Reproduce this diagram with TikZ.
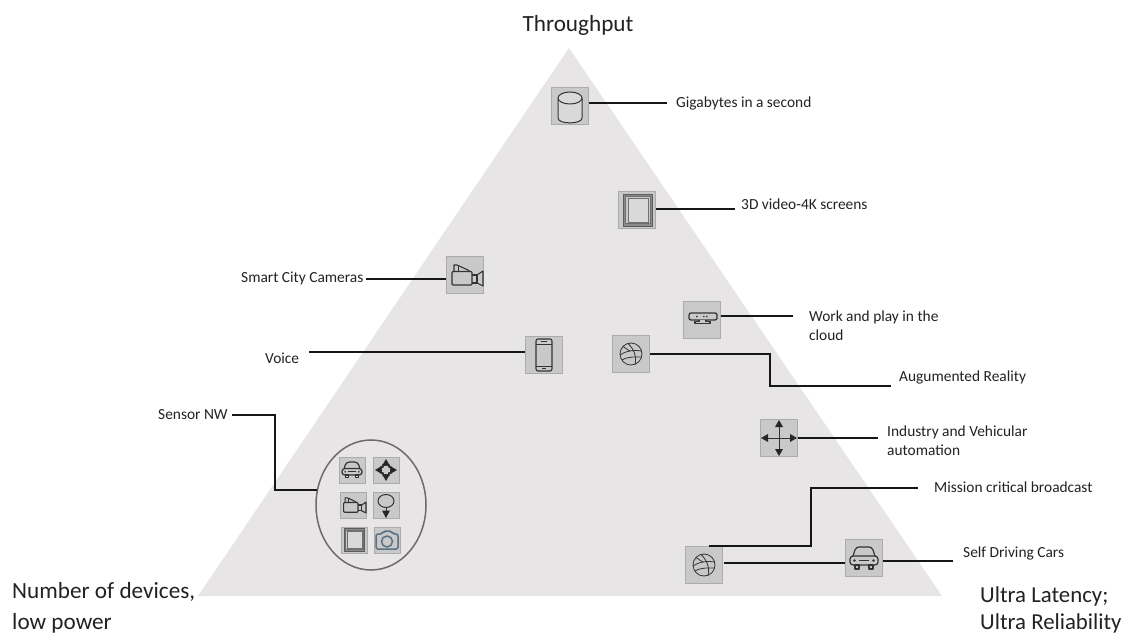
\documentclass[tikz,border=0pt]{standalone}
\usepackage{fontspec}
\usetikzlibrary{shapes.geometric}
\setmainfont{Carlito}
\definecolor{triGray}{HTML}{E7E5E6}
\definecolor{boxFill}{HTML}{C9C9C9}
\definecolor{boxEdge}{HTML}{ABABAB}
\definecolor{boxPale}{HTML}{D9D9D9}
\definecolor{frameMid}{HTML}{8A8A8A}
\definecolor{iconCol}{HTML}{333333}
\definecolor{camBlue}{HTML}{5A7182}
\definecolor{lineCol}{HTML}{161616}
\definecolor{txt}{HTML}{222222}
\definecolor{ringCol}{HTML}{6E6A6A}
\tikzset{
  x=1pt,y=-1pt,
  tri/.style={fill=triGray,draw=none},
  iconbox/.style={draw=boxEdge,fill=boxFill,line width=1.2pt,minimum size=37pt,inner sep=0pt},
  smallbox/.style={draw=boxEdge,fill=boxFill,line width=.8pt,minimum size=26pt,inner sep=0pt},
  lab/.style={font=\fontsize{15.4}{19}\selectfont,text=txt,inner sep=0pt,anchor=west,align=left},
  biglabA/.style={font=\fontsize{23.2}{31}\selectfont,text=txt,inner sep=0pt,anchor=west,align=left},
  biglabB/.style={font=\fontsize{22.8}{27}\selectfont,text=txt,inner sep=0pt,anchor=west,align=left},
  conn/.style={draw=lineCol,line width=1.3pt},
  ico/.style={draw=iconCol,line width=.8pt,line join=round},
  pics/cyl/.style={code={
    \draw[ico,fill=boxPale,line width=1pt] (-12,-8) -- (-12,12) .. controls (-12,18.5) and (12,18.5) .. (12,12) -- (12,-8);
    \draw[ico,fill=boxPale,line width=1pt] (0,-8) ellipse[x radius=12,y radius=6];
  }},
  pics/frm/.style={code={
    \draw[draw=iconCol!80,fill=frameMid,line width=.8pt] (-14,-16) rectangle (15,16);
    \draw[draw=iconCol!70,fill=boxFill,line width=.6pt] (-12,-14) rectangle (13,13.5);
    \draw[draw=iconCol!70,fill=boxPale,line width=.8pt] (-9,-12) rectangle (11,12);
  }},
  pics/cam/.style={code={
    \draw[ico,line width=1.1pt,rounded corners=1pt] (-13,-3.5) rectangle (7,10);
    \draw[ico,line width=1.1pt] (7,0) -- (12,0) -- (12,8) -- (7,8);
    \draw[ico,line width=1.1pt] (12,0) -- (18,-4) -- (18,11) -- (12,8);
    \draw[ico,line width=1.1pt] (-11,-3.5) -- (-11,-10) -- (-8,-10) -- (4,-4.5) -- (4,-3.5);
    \draw[ico,line width=.7pt] (-7,-3.5) -- (-7,-9);
  }},
  pics/phone/.style={code={
    \draw[ico,line width=1.1pt,rounded corners=2pt] (-8,-16) rectangle (8,16);
    \draw[ico,line width=.7pt] (-8,-11) -- (8,-11) (-8,11) -- (8,11);
    \draw[ico,line width=.8pt] (-2,13.5) -- (2,13.5) (-3,-13.5) -- (3,-13.5);
  }},
  pics/ball/.style={code={
    \draw[ico] (0,0) circle[radius=11];
    \draw[ico] (-3,-10.5) .. controls (3,-5) and (6,3) .. (4,10.5);
    \draw[ico] (-10.8,1) .. controls (-4,-4) and (5,-4) .. (10.5,-3);
    \draw[ico] (-9,6) .. controls (-2,2) and (6,3) .. (10.5,3);
    \draw[ico] (-8,-7.5) .. controls (-4,-5) and (-2,-3) .. (-1,-3);
  }},
  pics/kinect/.style={code={
    \draw[ico,line width=1.3pt,fill=boxFill,rounded corners=2pt] (-13,-7) rectangle (15,0);
    \draw[ico,line width=1.3pt,fill=boxFill] (-3,0) -- (-3,1.5) -- (-7,1.5) -- (-7,3.5) -- (8,3.5) -- (8,1.5) -- (4,1.5) -- (4,0);
    \fill[iconCol] (-6,-4.2) rectangle (-4.5,-2.8) (1,-4.2) rectangle (2.5,-2.8) (4,-4.2) rectangle (5.5,-2.8);
  }},
  pics/arrs/.style={code={
    \draw[ico,line width=.9pt] (-14,0) -- (14,0) (0,-14) -- (0,14);
    \fill[black!85] (0,-18) -- (4,-11) -- (-4,-11) -- cycle
      (0,18) -- (4,11) -- (-4,11) -- cycle
      (-18,0) -- (-11,-4) -- (-11,4) -- cycle
      (18,0) -- (11,-4) -- (11,4) -- cycle;
  }},
  pics/car/.style={code={
    \draw[ico,line width=1.2pt,rounded corners=3pt] (-14,-2) rectangle (14,7);
    \draw[ico,line width=1.2pt,rounded corners=3pt] (-11,-2) -- (-8,-11) -- (8,-11) -- (11,-2);
    \draw[ico,line width=1.1pt] (-9,7) rectangle (-5,11) (5,7) rectangle (9,11);
    \draw[ico,line width=.8pt] (-5,2.5) -- (5,2.5);
    \fill[iconCol] (-9.5,2.5) circle[radius=1.3] (9.5,2.5) circle[radius=1.3];
  }},
  pics/cross/.style={code={
    \draw[ico,line width=1.4pt,fill=boxFill] (-3,-5) -- (-3,-3) -- (-5,-3) -- (-5,3) -- (-3,3) -- (-3,5) -- (3,5) -- (3,3) -- (5,3) -- (5,-3) -- (3,-3) -- (3,-5) -- cycle;
    \fill[black!85] (0,-11) -- (3.5,-5) -- (-3.5,-5) -- cycle
      (0,11) -- (3.5,5) -- (-3.5,5) -- cycle
      (-11,0) -- (-5,-3.5) -- (-5,3.5) -- cycle
      (11,0) -- (5,-3.5) -- (5,3.5) -- cycle;
  }},
  pics/pin/.style={code={
    \draw[ico,line width=1pt] (0,-4) ellipse[x radius=8,y radius=6.5];
    \draw[ico,line width=1pt] (0,2.5) -- (0,8);
    \fill[black!85] (0,13) -- (-4,5.5) -- (4,5.5) -- cycle;
  }},
  pics/photo/.style={code={
    \draw[draw=camBlue,line width=1.5pt,rounded corners=2pt] (-11,-6) -- (-5,-6) -- (-3,-9) -- (4,-9) -- (6,-6) -- (11,-6) -- (11,9) -- (-11,9) -- cycle;
    \draw[draw=camBlue,line width=1.5pt] (0,1.5) circle[radius=5.5];
  }},
}
\begin{document}
\begin{tikzpicture}
\useasboundingbox (0,0) rectangle (1125,636);
\fill[white] (0,0) rectangle (1125,636);
\fill[tri] (569,48) -- (942,596) -- (198,596) -- cycle;

% large icons
\node[iconbox] (gig) at (570,106) {};   \pic at (gig) {cyl};
\node[iconbox] (vid) at (637,210) {};   \pic at (vid) {frm};
\node[iconbox] (cam) at (465,275) {};   \pic at (cam) {cam};
\node[iconbox] (pho) at (544,355) {};   \pic at (pho) {phone};
\node[iconbox] (ar)  at (631,354) {};   \pic at (ar) {ball};
\node[iconbox] (kin) at (702,320) {};   \pic at (kin) {kinect};
\node[iconbox] (arr) at (779,438) {};   \pic at (arr) {arrs};
\node[iconbox] (mis) at (704,565) {};   \pic at (mis) {ball};
\node[iconbox] (car) at (864,558) {};   \pic at (car) {car};

% sensor cluster
\node[draw=ringCol,line width=1.5pt,ellipse,minimum width=110pt,minimum height=130pt,inner sep=0pt] (ring) at (371,505) {};
\node[smallbox] (s1) at (352,470) {}; \pic[scale=.72] at (s1) {car};
\node[smallbox] (s2) at (386,470) {}; \pic at (s2) {cross};
\node[smallbox] (s3) at (353,505) {}; \pic[scale=.72] at (s3) {cam};
\node[smallbox] (s4) at (386,505) {}; \pic at (s4) {pin};
\node[smallbox] (s5) at (354,540) {}; \pic[scale=.72] at (s5) {frm};
\node[smallbox] (s6) at (387,540) {}; \pic at (s6) {photo};

% labels
\node[biglabA,anchor=center] (tTop) at (578,25) {Throughput};
\node[biglabA] (tLeft) at (12,608) {Number of devices,\\low power};
\node[biglabB] (tRight) at (980,610) {Ultra Latency;\\Ultra Reliability};
\node[lab] (lGig) at (676,103) {Gigabytes in a second};
\node[lab] (lVid) at (741,204) {3D video-4K screens};
\node[lab] (lCam) at (241,278) {Smart City Cameras};
\node[lab] (lVoi) at (265,358) {Voice};
\node[lab] (lKin) at (809,326) {Work and play in the\\cloud};
\node[lab] (lAr)  at (899,377) {Augumented Reality};
\node[lab] (lArr) at (887,441) {Industry and Vehicular\\automation};
\node[lab] (lMis) at (934,487) {Mission critical broadcast};
\node[lab] (lSel) at (963,553) {Self Driving Cars};
\node[lab] (lSen) at (158,415) {Sensor NW};

% connectors
\coordinate (a1) at (667,103);
\coordinate (a2) at (735,209);
\coordinate (a3) at (366,279);
\coordinate (a4) at (309,352);
\coordinate (a5) at (793,316);
\coordinate (a6) at (891,386);
\coordinate (a7) at (878,438);
\coordinate (a8) at (918,488);
\coordinate (a9) at (953,561);
\coordinate (a10) at (232,415);
\coordinate (b7) at (709,546);
\coordinate (c7) at (845,563);
\coordinate (d7) at (724,563);
\coordinate (e7) at (317,490);
\draw[conn] (gig.east |- a1) -- (a1);
\draw[conn] (vid.east |- a2) -- (a2);
\draw[conn] (a3) -- (cam.west |- a3);
\draw[conn] (a4) -- (pho.west |- a4);
\draw[conn] (kin.east |- a5) -- (a5);
\draw[conn] (ar.east) -- (770,354) -- (770,386) -- (a6);
\draw[conn] (arr.east) -- (a7);
\draw[conn] (b7) -- (811,546) -- (811,488) -- (a8);
\draw[conn] (d7) -- (c7);
\draw[conn] (car.east |- a9) -- (a9);
\draw[conn,line width=1.8pt] (a10) -- (275,415) -- (275,490) -- (e7);
\end{tikzpicture}
\end{document}
